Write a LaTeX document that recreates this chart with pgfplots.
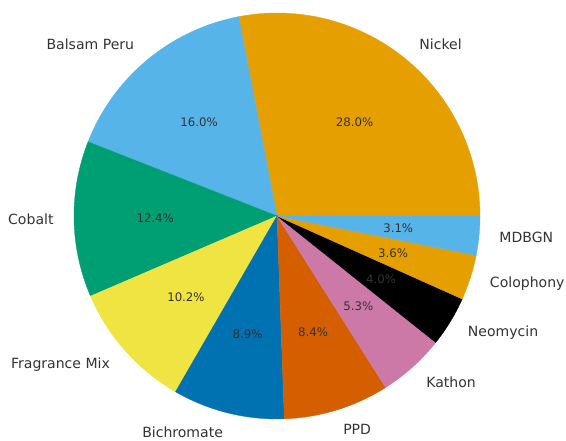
\documentclass[border=0pt]{standalone}
\usepackage{fontspec}
\setmainfont{DejaVu Sans}
\usepackage{pgfplots}
\pgfplotsset{compat=1.18}
\definecolor{cOrange}{HTML}{E69F00}
\definecolor{cSky}{HTML}{56B4E9}
\definecolor{cGreen}{HTML}{009E73}
\definecolor{cYellow}{HTML}{F0E442}
\definecolor{cBlue}{HTML}{0072B2}
\definecolor{cVerm}{HTML}{D55E00}
\definecolor{cPink}{HTML}{CC79A7}
\definecolor{cBlack}{HTML}{000000}
\definecolor{lab}{HTML}{333333}
% slice: start(cum %) end(cum %) color label pct anchor
\newcommand\slice[6]{%
\addplot[fill=#3, draw=#3, line width=0.3pt, domain=#1:#2, samples=90, variable=\t]
  ({cos(\t/99.9*360)},{sin(\t/99.9*360)}) -- (axis cs:0,0) -- cycle;
\node[anchor=#6, inner sep=0pt, text=lab, font=\fontsize{14.1}{16}\selectfont]
  at (axis cs:{1.1*cos((#1+#2)/2/99.9*360)},{1.1*sin((#1+#2)/2/99.9*360)}) {#4};
\node[inner sep=0pt, text=lab, font=\fontsize{11.8}{14}\selectfont]
  at (axis cs:{0.6*cos((#1+#2)/2/99.9*360)},{0.6*sin((#1+#2)/2/99.9*360)}) {#5\%};
}
\begin{document}
\begin{tikzpicture}
\begin{axis}[
  width=566bp, height=441bp, scale only axis,
  xmin=-1.3645, xmax=1.4236, ymin=-1.1084, ymax=1.0640,
  hide axis, clip=false,
]
% values: Nickel 28.0, Balsam Peru 16.0, Cobalt 12.4, Fragrance Mix 10.2,
% Bichromate 8.9, PPD 8.4, Kathon 5.3, Neomycin 4.0, Colophony 3.6, MDBGN 3.1
\slice{0}{28.0}{cOrange}{Nickel}{28.0}{west}
\slice{28.0}{44.0}{cSky}{Balsam Peru}{16.0}{east}
\slice{44.0}{56.4}{cGreen}{Cobalt}{12.4}{east}
\slice{56.4}{66.6}{cYellow}{Fragrance Mix}{10.2}{east}
\slice{66.6}{75.5}{cBlue}{Bichromate}{8.9}{east}
\slice{75.5}{83.9}{cVerm}{PPD}{8.4}{west}
\slice{83.9}{89.2}{cPink}{Kathon}{5.3}{west}
\slice{89.2}{93.2}{cBlack}{Neomycin}{4.0}{west}
\slice{93.2}{96.8}{cOrange}{Colophony}{3.6}{west}
\slice{96.8}{99.9}{cSky}{MDBGN}{3.1}{west}
\end{axis}
\pgfresetboundingbox
\path (current axis.south west) rectangle (current axis.north east);
\end{tikzpicture}
\end{document}
